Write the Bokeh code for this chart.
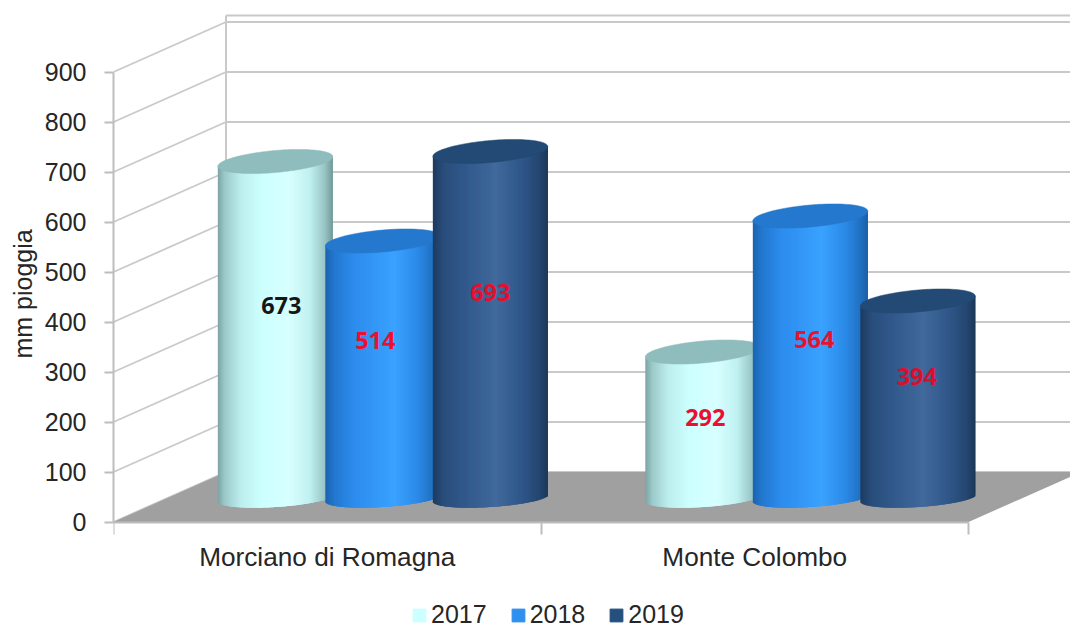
import math
from bokeh.plotting import figure
from bokeh.models import (LinearAxis, FixedTicker, Range1d, Legend, LegendItem,
                          ColumnDataSource, Title)
from bokeh.core.properties import value
from bokeh.embed import file_html
from bokeh.resources import INLINE

categories = ["Morciano di Romagna", "Monte Colombo"]
years = ["2017", "2018", "2019"]
values_2017 = [673, 292]
values_2018 = [514, 564]
values_2019 = [693, 394]
y_ticks = [0, 100, 200, 300, 400, 500, 600, 700, 800, 900]
y_title = "mm pioggia"

series = [values_2017, values_2018, values_2019]

# ---- styles ----
FONT = "Liberation Sans"
TXT = "#262626"
GRID = "#c9c9c9"
swatches = ["#ccffff", "#2f8fee", "#24507f"]
lids = ["#8fbcbc", "#2478cd", "#234a75"]
stops = [
    [(0, "#7da3a3"), (.06, "#9cc9c9"), (.2, "#bdeeee"), (.38, "#ccffff"), (.62, "#d8ffff"),
     (.8, "#c0f0f0"), (.93, "#98c4c4"), (1, "#739a9a")],
    [(0, "#1b63b0"), (.08, "#2378cf"), (.25, "#2d8ced"), (.6, "#3aa2ff"), (.8, "#2c8ae8"),
     (.94, "#2070c0"), (1, "#1b5ea6")],
    [(0, "#1d3b60"), (.1, "#2a4e7c"), (.3, "#325a8d"), (.55, "#41699c"), (.78, "#2f5688"),
     (.93, "#24466f"), (1, "#1c3858")],
]
label_colors = [["#161616", "#ec1030"], ["#ec1030", "#ec1030"], ["#e2102e", "#d8102c"]]
label_dx = [[6, 2.5], [-7.5, 4], [0, -1]]
label_dy = [[24, 8], [29, 18], [32, 23]]

# ---- geometry (screen scale of the plot) ----
W, H = 1070, 628
LEFT = 113
ZERO_Y = 521.5
PX_PER_X = 427.5        # pixels per category
PX_PER_Y = 0.5          # pixels per mm
DEPTH_X = 112.5 / PX_PER_X
DEPTH_Y = 100
BASE = 48               # cylinders stand this far back on the floor
GROUP_C = 0.63
STEP = 0.2515
A = 57.5                # cylinder half width, px
B = 11.0                # lid half height, px
B_FOOT = 9.0            # foot curve half height, px
TILT = 0.085
TILT_FOOT = 0.065


def hex2rgb(h):
    return [int(h[i:i + 2], 16) for i in (1, 3, 5)]


def ramp(st, t):
    for (t0, c0), (t1, c1) in zip(st, st[1:]):
        if t <= t1:
            f = (t - t0) / (t1 - t0)
            a, b = hex2rgb(c0), hex2rgb(c1)
            return "#%02x%02x%02x" % tuple(round(a[i] + (b[i] - a[i]) * f) for i in range(3))
    return st[-1][1]


x_end = (W - LEFT) / PX_PER_X
p = figure(width=W, height=H, frame_width=W - LEFT, frame_height=H,
           output_backend="svg", toolbar_location=None, tools="",
           x_range=Range1d(0, x_end),
           y_range=Range1d(-(H - ZERO_Y) / PX_PER_Y, ZERO_Y / PX_PER_Y),
           x_axis_location=None, y_axis_location=None,
           min_border_left=LEFT, min_border_right=0, min_border_top=0, min_border_bottom=0,
           outline_line_color=None, background_fill_color="white", border_fill_color="white")
p.grid.visible = False

x_max = x_end + 0.1
# back wall grid, left wall grid
p.segment(x0=[DEPTH_X] * len(y_ticks), x1=[x_max] * len(y_ticks),
          y0=[t + DEPTH_Y for t in y_ticks], y1=[t + DEPTH_Y for t in y_ticks],
          line_color=GRID, line_width=2)
p.segment(x0=[0] * len(y_ticks), x1=[DEPTH_X] * len(y_ticks),
          y0=y_ticks, y1=[t + DEPTH_Y for t in y_ticks], line_color=GRID, line_width=1.8)
wall_top = y_ticks[-1] + DEPTH_Y + 13
p.segment(x0=[DEPTH_X], x1=[x_max], y0=[wall_top], y1=[wall_top], line_color=GRID, line_width=2)
p.segment(x0=[DEPTH_X], x1=[DEPTH_X], y0=[DEPTH_Y], y1=[wall_top], line_color=GRID, line_width=2)

# floor
p.patch(x=[0, 2, 2 + DEPTH_X, DEPTH_X], y=[0, 0, DEPTH_Y, DEPTH_Y],
        fill_color="#a0a0a0", fill_alpha=1, line_color=None)

# cylinders: overlapping 1px slices for the shaded side, one patch for the lid
labels = {"x": [], "y": [], "t": [], "c": [], "dx": [], "dy": []}
for g in range(len(categories)):
    for s, vals in enumerate(series):
        v = vals[g]
        cx = g + GROUP_C + (s - 1) * STEP
        cpx = cx * PX_PER_X
        L, R, T, Bt, C = [], [], [], [], []
        n = int(2 * A)
        for i in range(n):
            d0 = -A + i * 2 * A / n
            d1 = d0 + 2 * A / n
            dm = (d0 + d1) / 2
            foot = B_FOOT * math.sqrt(max(0, 1 - (dm / A) ** 2))
            L.append((cpx + d0) / PX_PER_X)
            R.append((cpx + min(d1 + 1.5, A)) / PX_PER_X)
            T.append(BASE + v + TILT * dm / PX_PER_Y)
            Bt.append(BASE + (TILT_FOOT * dm - foot) / PX_PER_Y)
            C.append(ramp(stops[s], (dm + A) / (2 * A)))
        p.quad(left=L, right=R, top=T, bottom=Bt, fill_color=C, fill_alpha=1,
               line_color=None)
        lx, ly = [], []
        for k in range(121):
            a = 2 * math.pi * k / 120
            d = A * math.cos(a)
            lx.append((cpx + d) / PX_PER_X)
            ly.append(BASE + v + (TILT * d + B * math.sin(a)) / PX_PER_Y)
        p.patch(x=lx, y=ly, fill_color=lids[s], fill_alpha=1, line_color=lids[s], line_width=0.5)
        labels["x"].append(cx)
        labels["y"].append(BASE + v / 2)
        labels["t"].append(str(v))
        labels["c"].append(label_colors[s][g])
        labels["dx"].append(label_dx[s][g])
        labels["dy"].append(-label_dy[s][g])

p.text(x="x", y="y", text="t", text_color="c", x_offset="dx", y_offset="dy",
       text_font=value("Open Sans"), text_font_style="bold", text_font_size="23.5px",
       text_align="center", text_baseline="middle", source=ColumnDataSource(labels))

# axes
ya = LinearAxis(ticker=FixedTicker(ticks=y_ticks), bounds=(0, 900),
                axis_line_color="#bdbdbd", axis_line_width=2,
                major_tick_line_color="#bdbdbd", major_tick_line_width=2,
                major_tick_in=0, major_tick_out=9, minor_tick_line_color=None,
                major_label_text_font=FONT, major_label_text_font_size="25px",
                major_label_text_color=TXT, major_label_standoff=18)
p.add_layout(ya, "left")
p.add_layout(Title(text=y_title, align="left", offset=270, standoff=10,
                   text_font=FONT, text_font_size="25px", text_font_style="normal",
                   text_color=TXT), "left")

xa = LinearAxis(ticker=FixedTicker(ticks=[0, 1, 2]), bounds=(0, 2), fixed_location=0,
                axis_line_color="#bdbdbd", axis_line_width=2,
                major_tick_line_color="#bdbdbd", major_tick_line_width=2,
                major_tick_in=0, major_tick_out=12, minor_tick_line_color=None,
                major_label_text_color=None, major_label_text_font_size="1px")
p.add_layout(xa, "below")

xl = LinearAxis(ticker=FixedTicker(ticks=[0.5, 1.5]), fixed_location=0,
                axis_line_color=None, major_tick_line_color=None, minor_tick_line_color=None,
                major_label_overrides={0.5: categories[0], 1.5: categories[1]},
                major_label_text_font=FONT, major_label_text_font_size="26.2px",
                major_label_text_color=TXT, major_label_standoff=14)
p.add_layout(xl, "below")

# legend
items = []
for s, y in enumerate(years):
    r = p.quad(left=[float("nan")], right=[float("nan")], top=[float("nan")], bottom=[float("nan")],
               fill_color=swatches[s], line_color=swatches[s])
    items.append(LegendItem(label=y, renderers=[r]))
leg = Legend(items=items, orientation="horizontal", location=(298, -1),
             glyph_width=16, glyph_height=16, label_standoff=4, spacing=23,
             padding=0, margin=0, border_line_color=None, background_fill_alpha=0,
             label_text_font=FONT, label_text_font_size="25px", label_text_color=TXT)
p.add_layout(leg, "center")

open("out.html", "w").write(file_html(p, INLINE))
